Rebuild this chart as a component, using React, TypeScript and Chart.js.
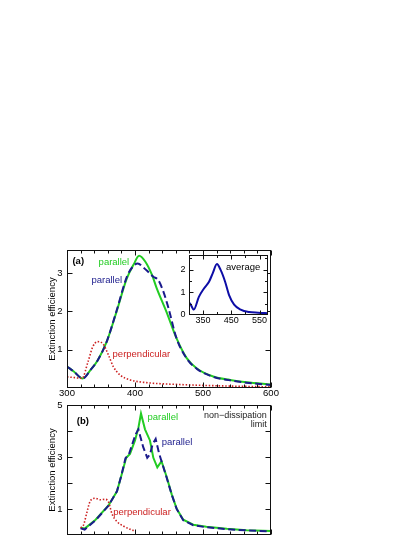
import React, { useEffect, useRef } from "react";
import { Chart, registerables } from "chart.js";

Chart.register(...registerables);

const FONT = "'Liberation Sans', Arial, Helvetica, sans-serif";
const GREEN = "#22cc22";
const NAVY = "#1b1b8c";
const RED = "#cc2222";
const INSET_BLUE = "#0d0da6";

// ---------- Panel (a) ----------
const aParSolidX = [300, 310, 323, 335, 345, 358, 373, 388, 398, 406, 415, 425, 432, 446, 461, 476, 491, 515, 540, 564, 600];
const aParSolidY = [0.56, 0.43, 0.25, 0.48, 0.72, 1.19, 2.0, 2.86, 3.22, 3.45, 3.3, 2.95, 2.6, 2.0, 1.3, 0.78, 0.51, 0.3, 0.21, 0.15, 0.09];

const aParDashX = [300, 310, 323, 335, 345, 358, 373, 388, 396, 404, 412, 420, 427, 434, 442, 449, 461, 476, 491, 515, 540, 564, 600];
const aParDashY = [0.56, 0.43, 0.25, 0.48, 0.72, 1.19, 2.02, 2.9, 3.15, 3.25, 3.15, 3.02, 2.9, 2.82, 2.5, 2.1, 1.3, 0.77, 0.5, 0.29, 0.2, 0.14, 0.08];

const aPerpX = [300, 312, 322, 331, 338, 345, 353, 361, 368, 378, 393, 417, 466, 540, 600];
const aPerpY = [0.29, 0.27, 0.25, 0.69, 1.08, 1.21, 1.15, 0.86, 0.56, 0.34, 0.21, 0.14, 0.09, 0.05, 0.03];

// ---------- Inset (average) ----------
const avgX = [300, 305, 317, 335, 353, 371, 384, 399, 412, 428, 442, 460, 483, 513, 545, 580];
const avgY = [0.55, 0.48, 0.24, 0.8, 1.17, 1.47, 1.84, 2.25, 1.99, 1.47, 0.88, 0.46, 0.24, 0.13, 0.1, 0.08];

// ---------- Panel (b) ----------
const bParSolidX = [320, 326, 342, 361, 373.5, 380, 387, 392.6, 400, 405, 408.8, 414.7, 422, 427, 432.8, 439, 446.6, 454, 461.3, 471, 485.7, 505, 535, 564, 600];
const bParSolidY = [0.27, 0.24, 0.58, 1.13, 1.68, 2.29, 2.97, 3.12, 3.64, 4.13, 4.68, 4.07, 3.64, 2.97, 2.6, 2.84, 2.23, 1.56, 1.0, 0.58, 0.39, 0.31, 0.23, 0.18, 0.15];

const bParDashX = [320, 326, 342, 361, 373.5, 380, 386, 391, 396, 401, 405, 412, 418, 422, 426, 430.4, 435.3, 439, 446.6, 454, 461.3, 471, 485.7, 505, 535, 564, 600];
const bParDashY = [0.25, 0.2, 0.56, 1.12, 1.68, 2.3, 2.95, 3.1, 3.5, 3.88, 4.07, 3.39, 2.97, 3.1, 3.5, 3.7, 3.15, 2.84, 2.2, 1.55, 1.0, 0.56, 0.37, 0.29, 0.22, 0.17, 0.13];

const bPerpX = [320, 324.5, 329.4, 334.3, 341.7, 349, 356.3, 361.3, 366, 373.5, 383.4, 393, 399.5];
const bPerpY = [0.27, 0.39, 0.88, 1.31, 1.41, 1.35, 1.37, 1.25, 0.82, 0.51, 0.33, 0.21, 0.15];

// ---------- ticks ----------
const mainXLabels = [300, 400, 500, 600];
const mainXMajor = [300, 400, 500, 600];
const mainXMinor = [320, 340, 360, 380, 420, 440, 460, 480, 520, 540, 560, 580];
const aYLabels = [1, 2, 3];
const aYMajor = [1, 2, 3];
const bYLabels = [1, 3, 5];
const bYMajor = [1, 2, 3, 4];
const insetXLabels = [350, 450, 550];
const insetXMajor = [350, 450, 550];
const insetXMinor = [400, 500];
const insetYLabels = [0, 1, 2];
const insetYMajor = [1, 2];
const insetYMinor = [0.5, 1.5, 2.5];

const zip = (xs: number[], ys: number[]) => xs.map((x, i) => ({ x, y: ys[i] }));

const frameTicks = {
  id: "frameTicks",
  beforeDraw(chart: any, _a: any, opts: any) {
    if (!opts || !opts.fill) return;
    const { ctx, chartArea } = chart;
    ctx.save();
    ctx.fillStyle = opts.fill;
    ctx.fillRect(chartArea.left, chartArea.top, chartArea.right - chartArea.left, chartArea.bottom - chartArea.top);
    ctx.restore();
  },
  afterDatasetsDraw(chart: any, _a: any, opts: any) {
    if (!opts || !opts.enabled) return;
    const { ctx, chartArea, scales } = chart;
    const xs = scales.x;
    const ys = scales.y;
    const L = Math.round(chartArea.left) + 0.5;
    const R = Math.round(chartArea.right) - 0.5;
    const T = Math.round(chartArea.top) + 0.5;
    const B = Math.round(chartArea.bottom) - 0.5;
    ctx.save();
    ctx.strokeStyle = "#111";
    ctx.lineWidth = 1;
    ctx.beginPath();
    const tx = (vals: number[], len: number) => {
      vals.forEach((v) => {
        const p = Math.round(xs.getPixelForValue(v)) + 0.5;
        ctx.moveTo(p, B);
        ctx.lineTo(p, B - len);
        ctx.moveTo(p, T);
        ctx.lineTo(p, T + len);
      });
    };
    const ty = (vals: number[], len: number) => {
      vals.forEach((v) => {
        const p = Math.round(ys.getPixelForValue(v)) + 0.5;
        ctx.moveTo(L, p);
        ctx.lineTo(L + len, p);
        ctx.moveTo(R, p);
        ctx.lineTo(R - len, p);
      });
    };
    tx(opts.xMajor || [], opts.majorLen || 5);
    tx(opts.xMinor || [], opts.minorLen || 3);
    ty(opts.yMajor || [], opts.majorLen || 5);
    ty(opts.yMinor || [], opts.minorLen || 3);
    ctx.stroke();
    ctx.strokeRect(L, T, R - L, B - T);
    ctx.restore();

    // text annotations placed in data coordinates
    (opts.texts || []).forEach((t: any) => {
      ctx.save();
      ctx.font = `${t.bold ? "bold " : ""}${t.size || 9.5}px ${FONT}`;
      ctx.fillStyle = t.color || "#000";
      ctx.textAlign = t.align || "left";
      ctx.textBaseline = "middle";
      ctx.fillText(t.text, xs.getPixelForValue(t.x), ys.getPixelForValue(t.y));
      ctx.restore();
    });
  },
};

Chart.register(frameTicks);

const lineDs = (data: any, color: string, kind: "solid" | "dash" | "dot", tension = true) => ({
  data,
  borderColor: color,
  backgroundColor: color,
  borderWidth: kind === "dot" ? 1.6 : 2,
  borderDash: kind === "dash" ? [7, 3.5] : kind === "dot" ? [1.5, 1.8] : [],
  pointRadius: 0,
  fill: false,
  cubicInterpolationMode: tension ? ("monotone" as const) : ("default" as const),
  tension: 0,
});

function makeConfig(p: any): any {
  return {
    type: "line",
    data: { datasets: p.datasets },
    options: {
      responsive: false,
      animation: false,
      events: [],
      layout: { padding: p.padding },
      plugins: {
        legend: { display: false },
        tooltip: { enabled: false },
        frameTicks: p.frame,
      },
      scales: {
        x: {
          type: "linear",
          min: p.xMin,
          max: p.xMax,
          grid: { display: false, drawTicks: false },
          border: { display: false },
          ticks: {
            display: p.xTicksDisplay !== false,
            autoSkip: false,
            maxRotation: 0,
            padding: p.xPad,
            color: "#000",
            font: { family: FONT, size: p.tickSize },
            callback: (v: any) => String(v),
          },
          afterBuildTicks: (s: any) => {
            s.ticks = p.xLabels.map((v: number) => ({ value: v }));
          },
          afterFit: (s: any) => {
            s.height = p.xHeight;
          },
        },
        y: {
          type: "linear",
          min: p.yMin,
          max: p.yMax,
          grid: { display: false, drawTicks: false },
          border: { display: false },
          ticks: {
            autoSkip: false,
            padding: p.yPad,
            color: "#000",
            font: { family: FONT, size: p.tickSize },
            callback: (v: any) => String(v),
          },
          afterBuildTicks: (s: any) => {
            s.ticks = p.yLabels.map((v: number) => ({ value: v }));
          },
          title: p.yTitle
            ? {
                display: true,
                text: p.yTitle,
                color: "#000",
                font: { family: FONT, size: 9.5 },
                padding: { top: p.titlePad, bottom: 0 },
              }
            : { display: false },
          afterFit: (s: any) => {
            s.width = p.yWidth;
          },
        },
      },
    },
  };
}

function ChartCanvas(props: { left: number; top: number; width: number; height: number; cfg: () => any }) {
  const ref = useRef<HTMLCanvasElement>(null);
  useEffect(() => {
    const chart = new Chart(ref.current as HTMLCanvasElement, props.cfg());
    return () => chart.destroy();
  }, []);
  return (
    <canvas
      ref={ref}
      width={props.width}
      height={props.height}
      style={{ position: "absolute", left: props.left, top: props.top, width: props.width, height: props.height }}
    />
  );
}

const panelA = () =>
  makeConfig({
    datasets: [
      lineDs(zip(aPerpX, aPerpY), RED, "dot"),
      lineDs(zip(aParDashX, aParDashY), NAVY, "dash"),
      lineDs(zip(aParSolidX, aParSolidY), GREEN, "solid"),
    ],
    padding: { top: 20, right: 29, left: 0, bottom: 0 },
    xMin: 300,
    xMax: 600,
    xLabels: mainXLabels,
    xPad: 0,
    xHeight: 17,
    yMin: 0,
    yMax: 3.6,
    yLabels: aYLabels,
    yPad: 4.5,
    yWidth: 67,
    tickSize: 9.5,
    yTitle: "Extinction efficiency",
    titlePad: 47,
    frame: {
      enabled: true,
      xMajor: mainXMajor,
      xMinor: mainXMinor,
      yMajor: aYMajor,
      yMinor: [],
      majorLen: 5,
      minorLen: 3,
      texts: [
        { text: "(a)", x: 308, y: 3.3, bold: true },
        { text: "parallel", x: 369, y: 3.29, color: GREEN, align: "center" },
        { text: "parallel", x: 358.4, y: 2.82, color: NAVY, align: "center" },
        { text: "perpendicular", x: 367, y: 0.89, color: RED, align: "left" },
      ],
    },
  });

const inset = () =>
  makeConfig({
    datasets: [lineDs(zip(avgX, avgY), INSET_BLUE, "solid")],
    padding: { top: 10, right: 12, left: 0, bottom: 0 },
    xMin: 300,
    xMax: 580,
    xLabels: insetXLabels,
    xPad: 0,
    xHeight: 15,
    yMin: 0,
    yMax: 2.65,
    yLabels: insetYLabels,
    yPad: 3.5,
    yWidth: 19,
    tickSize: 9,
    frame: {
      enabled: true,
      fill: "#ffffff",
      xMajor: insetXMajor,
      xMinor: insetXMinor,
      yMajor: insetYMajor,
      yMinor: insetYMinor,
      majorLen: 4,
      minorLen: 2.5,
      texts: [{ text: "average", x: 553, y: 2.09, align: "right", size: 9.5 }],
    },
  });

const panelB = () =>
  makeConfig({
    datasets: [
      lineDs(zip(bPerpX, bPerpY), RED, "dot"),
      lineDs(zip(bParDashX, bParDashY), NAVY, "dash", false),
      lineDs(zip(bParSolidX, bParSolidY), GREEN, "solid", false),
    ],
    padding: { top: 8, right: 29, left: 0, bottom: 0 },
    xMin: 300,
    xMax: 600,
    xLabels: mainXLabels,
    xTicksDisplay: false,
    xPad: 0,
    xHeight: 6,
    yMin: 0,
    yMax: 5,
    yLabels: bYLabels,
    yPad: 4.5,
    yWidth: 67,
    tickSize: 9.5,
    yTitle: "Extinction efficiency",
    titlePad: 47,
    frame: {
      enabled: true,
      xMajor: mainXMajor,
      xMinor: mainXMinor,
      yMajor: bYMajor,
      yMinor: [],
      majorLen: 5,
      minorLen: 3,
      texts: [
        { text: "(b)", x: 314.3, y: 4.375, bold: true },
        { text: "parallel", x: 440.9, y: 4.52, color: GREEN, align: "center" },
        { text: "parallel", x: 461.8, y: 3.55, color: NAVY, align: "center" },
        { text: "non\u2212dissipation", x: 593.7, y: 4.6, color: "#222", align: "right", size: 9 },
        { text: "limit", x: 593.7, y: 4.26, color: "#222", align: "right", size: 9 },
        { text: "perpendicular", x: 368, y: 0.85, color: RED, align: "left" },
      ],
    },
  });

export default function App() {
  return (
    <div
      style={{
        position: "absolute",
        left: 0,
        top: 0,
        width: 415,
        height: 537,
        overflow: "hidden",
        background: "#fff",
      }}
    >
      <ChartCanvas left={0} top={230} width={300} height={175} cfg={panelA} />
      <ChartCanvas left={0} top={395} width={300} height={150} cfg={panelB} />
      <ChartCanvas left={170} top={245} width={110} height={85} cfg={inset} />
    </div>
  );
}
